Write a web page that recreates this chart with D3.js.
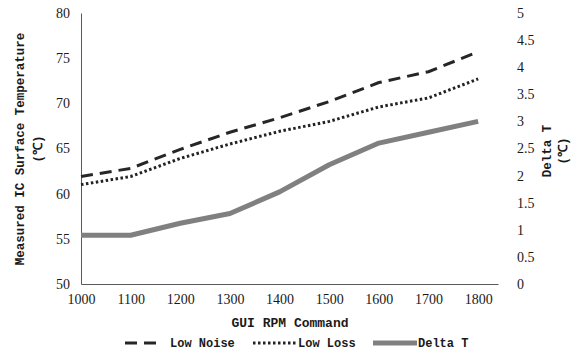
<!DOCTYPE html>
<html>
<head>
<meta charset="utf-8">
<script src="https://cdn.jsdelivr.net/npm/d3@7"></script>
<style>
  body { margin: 0; background: #fff; }
  text { font-family: "Liberation Mono", "DejaVu Sans Mono", monospace; fill: #1a1a1a; }
</style>
</head>
<body>
<div id="chart"></div>
<script>
const rpm = [1000, 1100, 1200, 1300, 1400, 1500, 1600, 1700, 1800];
const lowNoise = [61.9, 62.8, 64.9, 66.8, 68.4, 70.2, 72.3, 73.5, 75.7];
const lowLoss = [61.0, 61.9, 63.9, 65.5, 66.9, 68.0, 69.6, 70.6, 72.7];
const deltaT = [0.9, 0.9, 1.12, 1.3, 1.7, 2.2, 2.6, 2.8, 3.0];
const leftTicks = [50, 55, 60, 65, 70, 75, 80];
const rightTicks = [0, 0.5, 1, 1.5, 2, 2.5, 3, 3.5, 4, 4.5, 5];

const width = 584, height = 353;
const plotLeft = 81, plotRight = 498, plotTop = 13, plotBottom = 284;

const svg = d3.select("#chart")
    .append("svg")
    .attr("width", width)
    .attr("height", height);

// scales
const x = d3.scaleLinear()
    .domain([1000, 1840])
    .range([plotLeft, plotRight]);
const yL = d3.scaleLinear().domain([50, 80]).range([plotBottom, plotTop]);
const yR = d3.scaleLinear().domain([0, 5]).range([plotBottom, plotTop]);

function tickStyle(g) {
    g.selectAll("text")
        .style("font-family", "'Liberation Serif', serif")
        .style("font-size", "14px");
}

// axes
svg.append("g")
    .attr("transform", "translate(" + plotLeft + ",0)")
    .call(d3.axisLeft(yL).tickValues(leftTicks).tickSize(0).tickPadding(11))
    .call(g => g.select(".domain").attr("stroke", "#595959"))
    .call(tickStyle);

svg.append("g")
    .attr("transform", "translate(" + plotRight + ",0)")
    .call(d3.axisRight(yR).tickValues(rightTicks).tickFormat(d => String(d)).tickSize(0).tickPadding(19))
    .call(g => g.select(".domain").remove())
    .call(tickStyle);

svg.append("g")
    .attr("transform", "translate(0," + plotBottom + ")")
    .call(d3.axisBottom(x).tickValues(rpm).tickFormat(d3.format("d")).tickSize(0).tickPadding(10))
    .call(g => g.select(".domain").attr("stroke", "#595959"))
    .call(tickStyle);

// lines
function lineFor(values, scale) {
    return d3.line()
        .x((d, i) => x(rpm[i]))
        .y(d => scale(d))(values);
}

svg.append("path")
    .attr("d", lineFor(deltaT, yR))
    .attr("fill", "none")
    .attr("stroke", "#808080")
    .attr("stroke-width", 5)
    .attr("stroke-linejoin", "round");

svg.append("path")
    .attr("d", lineFor(lowLoss, yL))
    .attr("fill", "none")
    .attr("stroke", "#222")
    .attr("stroke-width", 3)
    .attr("stroke-dasharray", "2.5,2.5");

svg.append("path")
    .attr("d", lineFor(lowNoise, yL))
    .attr("fill", "none")
    .attr("stroke", "#262626")
    .attr("stroke-width", 3)
    .attr("stroke-dasharray", "12,7");

// axis titles
svg.append("text")
    .attr("transform", "translate(24,149) rotate(-90)")
    .attr("text-anchor", "middle")
    .style("font-size", "12.5px")
    .style("font-weight", "bold")
    .text("Measured IC Surface Temperature");
svg.append("text")
    .attr("transform", "translate(42,149) rotate(-90)")
    .attr("text-anchor", "middle")
    .style("font-size", "12.5px")
    .style("font-weight", "bold")
    .text("(℃)");

svg.append("text")
    .attr("transform", "translate(551,151) rotate(-90)")
    .attr("text-anchor", "middle")
    .style("font-size", "12.5px")
    .style("font-weight", "bold")
    .text("Delta T");
svg.append("text")
    .attr("transform", "translate(567,151) rotate(-90)")
    .attr("text-anchor", "middle")
    .style("font-size", "12.5px")
    .style("font-weight", "bold")
    .text("(℃)");

svg.append("text")
    .attr("x", 290)
    .attr("y", 327)
    .attr("text-anchor", "middle")
    .style("font-size", "13px")
    .style("font-weight", "bold")
    .text("GUI RPM Command");

// legend
const legend = [
    { name: "Low Noise", x0: 125, x1: 160, color: "#262626", w: 3, dash: "12,7" },
    { name: "Low Loss", x0: 253, x1: 297, color: "#222", w: 3, dash: "2.5,2.5" },
    { name: "Delta T", x0: 373, x1: 417, color: "#808080", w: 5, dash: null }
];
const lg = svg.append("g");
legend.forEach(d => {
    lg.append("line")
        .attr("x1", d.x0).attr("x2", d.x1)
        .attr("y1", 343).attr("y2", 343)
        .attr("stroke", d.color)
        .attr("stroke-width", d.w)
        .attr("stroke-dasharray", d.dash);
    lg.append("text")
        .attr("x", d.name === "Low Noise" ? 170 : d.x1 + 1)
        .attr("y", 347)
        .style("font-size", "12px")
        .style("font-weight", "bold")
        .text(d.name);
});
</script>
</body>
</html>
